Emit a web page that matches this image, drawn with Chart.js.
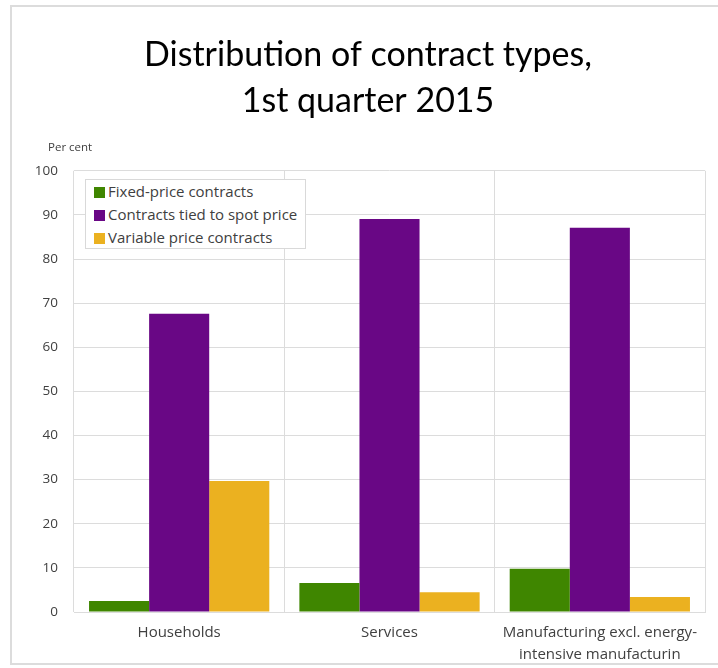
<!DOCTYPE html>
<html>
<head>
<meta charset="utf-8">
<script src="https://cdn.jsdelivr.net/npm/chart.js@4"></script>
<style>
  html, body { margin: 0; padding: 0; background: #ffffff; }
  #wrap { position: relative; width: 718px; height: 668px; overflow: hidden; }
  #frame { position: absolute; left: 10px; top: 5px; width: 760px; height: 660px; border: 2px solid #dcdcdc; box-sizing: border-box; }
  #c { position: absolute; left: 0; top: 0; }
  #legend { position: absolute; left: 85px; top: 179px; width: 221px; height: 70px; box-sizing: border-box;
            border: 1px solid #d9d9d9; background: #ffffff; padding: 0 0 0 8px;
            font-family: "Open Sans", sans-serif; font-size: 15px; color: #404040; }
  #legend div { height: 23px; line-height: 23px; white-space: nowrap; }
  #legend span { display: inline-block; width: 11px; height: 11px; margin-right: 3px; vertical-align: -1px; }
</style>
</head>
<body>
<div id="wrap">
  <div id="frame"></div>
  <canvas id="c" width="718" height="668"></canvas>
  <div id="legend"></div>
</div>
<script>
const titleLines = ['Distribution of contract types,', '1st quarter 2015'];
const unitLabel = 'Per cent';
const categories = ['Households', 'Services', ['Manufacturing excl. energy-', 'intensive manufacturin']];
const seriesNames = ['Fixed-price contracts', 'Contracts tied to spot price', 'Variable price contracts'];
const fixedPrice = [2.5, 6.6, 9.8];
const spotPrice = [67.6, 89.1, 87.1];
const variablePrice = [29.7, 4.5, 3.4];
const seriesColors = ['#3f8600', '#690785', '#ebb120'];
const yTicks = [0, 10, 20, 30, 40, 50, 60, 70, 80, 90, 100];

const seriesValues = [fixedPrice, spotPrice, variablePrice];

const unitPlugin = {
  id: 'unitLabel',
  afterDraw(chart) {
    const ctx = chart.ctx;
    ctx.save();
    ctx.font = '11.5px "Open Sans", sans-serif';
    ctx.fillStyle = '#404040';
    ctx.textBaseline = 'middle';
    ctx.textAlign = 'left';
    ctx.fillText(unitLabel, 48, chart.chartArea.top - 23);
    ctx.restore();
  }
};

const chart = new Chart(document.getElementById('c'), {
  type: 'bar',
  data: {
    labels: categories,
    datasets: seriesNames.map((n, i) => ({
      label: n,
      data: seriesValues[i],
      backgroundColor: seriesColors[i],
      borderWidth: 0,
      barPercentage: 1.0,
      categoryPercentage: 0.857
    }))
  },
  options: {
    responsive: false,
    animation: false,
    layout: { padding: { left: 31, right: 13, top: 32, bottom: 4 } },
    plugins: {
      legend: { display: false },
      tooltip: { enabled: false },
      title: {
        display: true,
        text: titleLines,
        color: '#000000',
        font: { family: 'Lato, sans-serif', size: 34, weight: 'normal', lineHeight: 1.35 },
        padding: { top: 0, bottom: 47 }
      }
    },
    scales: {
      x: {
        afterFit(scale) { scale.height = 52; },
        grid: { color: '#dcdcdc', lineWidth: 1, offset: true, drawTicks: false },
        border: { color: '#dcdcdc' },
        ticks: { color: '#404040', font: { family: '"Open Sans", sans-serif', size: 15, lineHeight: 1.45 }, padding: 10, maxRotation: 0, autoSkip: false }
      },
      y: {
        min: 0, max: 100,
        afterBuildTicks(scale) { scale.ticks = yTicks.map(v => ({ value: v })); },
        afterFit(scale) { scale.width = 43; },
        grid: { color: '#dcdcdc', lineWidth: 1, drawTicks: false },
        border: { display: false },
        ticks: { color: '#404040', font: { family: '"Open Sans", sans-serif', size: 13.5 }, padding: 16 }
      }
    }
  },
  plugins: [unitPlugin]
});

const legendEl = document.getElementById('legend');
chart.data.datasets.forEach(ds => {
  const row = document.createElement('div');
  const sw = document.createElement('span');
  sw.style.background = ds.backgroundColor;
  row.appendChild(sw);
  row.appendChild(document.createTextNode(ds.label));
  legendEl.appendChild(row);
});
</script>
</body>
</html>
